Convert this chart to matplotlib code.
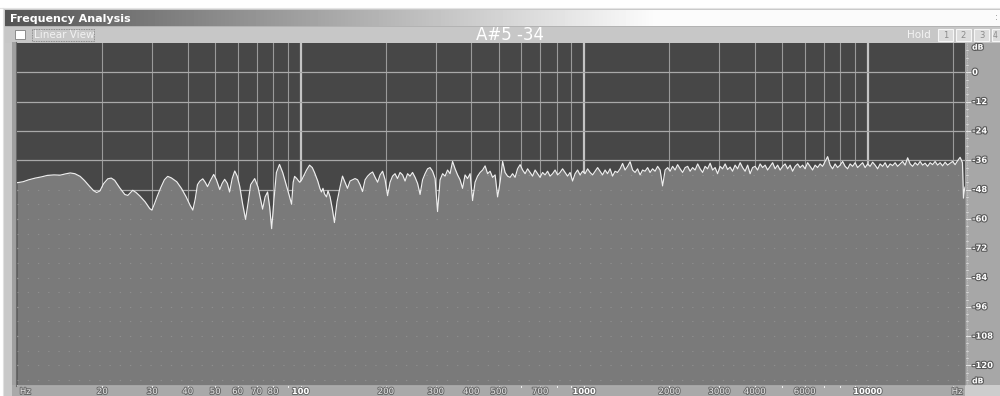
import numpy as np
import matplotlib
matplotlib.use("Agg")
import matplotlib.pyplot as plt
import matplotlib.patheffects as pe
from matplotlib.patches import Rectangle
from matplotlib.transforms import TransformedPath

# ---------------- data ----------------
low_freq_hz = [10, 10.5, 11.0, 11.6, 12.2, 12.8, 13.5, 14.2, 14.8, 15.4,
               16.0, 16.7, 17.3, 18.0, 18.6, 19.1, 19.6, 20.2, 20.9, 21.5,
               22.1, 23.0, 24.0, 24.6, 25.6, 26.3, 27.1, 28.3, 29.4, 29.9,
               30.5, 31.3, 32.2, 33.1, 34.0, 35.0, 36.6, 38.0, 39.5, 40.8,
               41.7, 42.5, 43.3, 44.1, 45.2, 46.1, 47.0, 48.0, 49.4, 50.5,
               51.9, 52.9, 54.0, 55.2, 56.2, 57.4, 58.6, 59.8, 61.0, 62.5,
               64.0, 65.4, 66.7, 68.9, 70.8, 72.3, 73.5, 75.0, 76.5, 77.8,
               79.1, 80.6, 82.2, 84.3, 86.5, 89.3, 91.0, 93.0, 94.2, 95.3,
               97.0, 99.2, 101, 103, 105, 107.6, 110, 112, 115, 117,
               118.5, 120, 121.5, 123.5, 125, 127.1, 129.5, 131.7, 134.5]
low_level_db = [-45.2, -44.8, -44.0, -43.3, -42.8, -42.2, -42.0, -42.1, -41.6, -41.2,
                -41.5, -42.6, -44.3, -46.6, -48.4, -49.2, -48.6, -45.6, -43.6, -43.3,
                -44.2, -47.2, -50.0, -50.4, -48.3, -49.2, -50.6, -53.0, -55.8, -56.4,
                -54.0, -50.5, -47.0, -44.0, -42.6, -43.2, -44.8, -47.5, -51.0, -54.5,
                -56.4, -52.0, -46.0, -44.6, -43.6, -45.0, -46.8, -44.5, -41.8, -44.0,
                -48.0, -45.5, -43.8, -45.5, -49.0, -43.5, -40.4, -42.5, -46.6, -54.0,
                -60.2, -53.0, -46.0, -43.5, -47.0, -52.0, -56.0, -51.0, -49.0, -55.0,
                -64.0, -52.0, -41.0, -37.7, -41.0, -46.6, -50.0, -54.0, -45.0, -42.6,
                -43.5, -45.0, -44.0, -42.0, -40.0, -38.0, -39.0, -41.0, -44.5, -47.5,
                -49.0, -47.5, -49.8, -51.0, -48.5, -51.0, -56.0, -61.5, -53.0]

high_freq_hz = [137.8, 140.6, 143.5, 146.4, 149.5, 152.6, 155.7, 158.9, 162.1, 165.4,
                168.9, 172.4, 175.9, 179.5, 183.2, 187.0, 190.8, 194.7, 198.7, 202.8,
                206.9, 211.1, 215.4, 219.8, 224.4, 229.0, 233.7, 238.5, 243.3, 248.3,
                253.5, 258.7, 264.0, 269.4, 274.9, 280.5, 286.3, 292.2, 298.2, 304.3,
                310.6, 317.0, 323.4, 330.0, 336.8, 343.7, 350.8, 358.0, 365.3, 372.8,
                380.4, 388.2, 396.3, 404.4, 412.6, 421.1, 429.8, 438.6, 447.6, 456.8,
                466.1, 475.7, 485.5, 495.5, 505.6, 516.0, 526.5, 537.3, 548.3, 559.5,
                571.0, 582.7, 594.8, 607.0, 619.4, 632.1, 645.0, 658.2, 671.8, 685.6,
                699.6, 713.9, 728.5, 743.4, 758.8, 774.4, 790.2, 806.4, 822.8, 839.7,
                857.0, 874.6, 892.5, 910.8, 929.6, 948.7, 968.0, 987.8, 1008, 1029,
                1050, 1072, 1094, 1116, 1139, 1162, 1186, 1210, 1235, 1260,
                1286, 1312, 1340, 1367, 1395, 1424, 1453, 1483, 1513, 1544,
                1576, 1608, 1641, 1675, 1709, 1744, 1780, 1817, 1854, 1892,
                1931, 1971, 2011, 2052, 2094, 2137, 2181, 2226, 2272, 2319,
                2366, 2414, 2464, 2515, 2566, 2619, 2672, 2727, 2783, 2840,
                2898, 2957, 3018, 3080, 3144, 3208, 3273, 3340, 3409, 3479,
                3551, 3624, 3698, 3774, 3851, 3930, 4011, 4093, 4177, 4263,
                4350, 4439, 4530, 4623, 4718, 4815, 4914, 5015, 5117, 5222,
                5329, 5438, 5550, 5664, 5780, 5899, 6019, 6142, 6269, 6398,
                6529, 6663, 6799, 6938, 7081, 7226, 7374, 7525, 7680, 7837,
                7998, 8162, 8330, 8501, 8675, 8853, 9034, 9219, 9408, 9601,
                9799, 10000, 10205, 10414, 10628, 10846, 11068, 11295, 11527, 11764,
                12004, 12250, 12502, 12758, 13020, 13287, 13560, 13838, 14122, 14412,
                14707, 15009, 15316, 15630, 15951, 16278, 16612, 16953, 17300, 17655,
                18016, 18385, 18763, 19148, 19541, 19942, 20350, 20767, 21193, 21600]
high_level_db = [-47, -42.5, -45, -47.5, -44.5, -44, -43.5, -44, -46, -48.8,
                 -44, -42.5, -41.5, -40.8, -43, -45, -42, -40.5, -44, -50.5,
                 -45, -42.5, -41.5, -43.5, -41, -42, -44.5, -41.5, -42.5, -41,
                 -43, -45.5, -50, -44, -41.5, -39.5, -39, -40.5, -43.5, -57,
                 -44, -41.5, -42.5, -40, -41.5, -36.5, -39.5, -42, -44, -47.5,
                 -42, -43.5, -41.5, -52.5, -45, -42.5, -41, -40, -38.3, -41.5,
                 -40.5, -43, -42, -51, -45, -36.5, -41, -42.5, -43, -41.5,
                 -43, -39.5, -37.8, -40, -41.5, -39.5, -41, -42.5, -40, -41.5,
                 -43, -41, -42, -40.5, -42.5, -41.5, -40, -42, -41, -39.5,
                 -41, -42.5, -41, -44.5, -41.5, -40, -42, -40.5, -41.5, -39.5,
                 -41, -42, -40.5, -39, -40.5, -42, -40, -41.5, -39.5, -42.5,
                 -40.5, -41, -39.5, -37.3, -40, -38.5, -36.6, -40, -41, -39.5,
                 -42, -40, -40.5, -39, -41, -39.5, -40.5, -38.5, -40, -46.5,
                 -40, -39, -40.5, -38.5, -40, -37.8, -39.5, -41, -39, -38.5,
                 -40.5, -39, -40, -37.5, -39.5, -41, -38.5, -39.5, -37.2, -40,
                 -39, -41.5, -38.5, -39.5, -37.5, -39.8, -38.8, -40.5, -38, -39.5,
                 -37, -39, -40.5, -38, -41.5, -39, -38.5, -40, -37.5, -39,
                 -38, -40, -38.5, -37, -39.5, -38, -40, -38.5, -37.5, -39.5,
                 -38, -40.5, -38.5, -37.5, -39, -38, -39.5, -37, -38.5, -40,
                 -38, -39, -37.5, -38.5, -36.5, -34.5, -38, -39.5, -37.5, -39,
                 -38, -36.5, -38.5, -39.5, -37.5, -38.5, -37, -39, -38, -37,
                 -39, -37.5, -38.5, -36.8, -38, -39.5, -37.5, -38.5, -37, -39,
                 -37.5, -38.2, -37, -38.5, -37.5, -36.5, -38, -35, -37.5, -38.5,
                 -37, -38, -36.5, -38, -37.2, -38.5, -37, -37.8, -36.5, -38,
                 -37, -38.3, -36.8, -38, -37.2, -36.5, -37.8, -36.2, -34.8, -37]
tail_freq_hz = [21780, 21950, 22050]
tail_level_db = [-51.5, -48, -47]

grid_freqs = [20, 30, 40, 50, 60, 70, 80, 90,
              200, 300, 400, 500, 600, 700, 800, 900,
              2000, 3000, 4000, 5000, 6000, 7000, 8000, 9000, 20000]
decade_freqs = [100, 1000, 10000]
x_label_freqs = [20, 30, 40, 50, 60, 70, 80, 100, 200, 300, 400, 500, 700,
                 1000, 2000, 3000, 4000, 6000, 10000]
x_label_texts = ["20", "30", "40", "50", "60", "70", "80", "100", "200", "300",
                 "400", "500", "700", "1000", "2000", "3000", "4000", "6000", "10000"]
x_minor_freqs = [90, 600, 800, 900, 5000, 7000, 8000, 9000, 20000]
db_ticks = [0, -12, -24, -36, -48, -60, -72, -84, -96, -108, -120]
db_labels = ["0", "-12", "-24", "-36", "-48", "-60", "-72", "-84", "-96", "-108", "-120"]
window_title = "Frequency Analysis"
note_readout = "A#5 -34"
checkbox_label = "Linear View"
hold_label = "Hold"
hold_buttons = ["1", "2", "3", "4"]

freq = np.array(low_freq_hz + high_freq_hz + tail_freq_hz)
level = np.array(low_level_db + high_level_db + tail_level_db)

# ---------------- figure ----------------
W, H = 1000, 396
fig = plt.figure(figsize=(10, 3.96), dpi=100, facecolor="white")


def frect(x0, y0, x1, y1):
    return [x0 / W, 1 - y1 / H, (x1 - x0) / W, (y1 - y0) / H]


bg = fig.add_axes([0, 0, 1, 1])
bg.set_xlim(0, W)
bg.set_ylim(H, 0)
bg.axis("off")

# window body
bg.add_patch(Rectangle((3, 9), 997, 387, fc="#c9c9c9", ec="none"))
bg.plot([0, 1000], [7.5, 7.5], color="#e4e4e4", lw=0.8)
bg.plot([3, 3], [8, 396], color="#e0e0e0", lw=0.8)
# title bar gradient
grad = np.clip(np.linspace(0.33, 1.05, 200), 0, 0.985)
bg.imshow(grad[None, :], extent=[5, 720, 26, 10], cmap="gray", vmin=0, vmax=1,
          aspect="auto", interpolation="bilinear", zorder=1)
bg.add_patch(Rectangle((720, 10), 280, 16, fc="#fbfbfb", ec="none", zorder=1))
bg.text(10, 18.5, window_title, fontsize=8, fontweight="bold", color="white",
        family="DejaVu Sans", va="center", ha="left", zorder=3)
bg.text(996, 18, ":", fontsize=6, color="#777777", va="center", ha="center", zorder=3)
# toolbar
bg.add_patch(Rectangle((5, 26), 995, 17, fc="#c7c7c7", ec="none", zorder=1))
bg.plot([5, 1000], [26.3, 26.3], color="#b0b0b0", lw=0.6, zorder=2)
bg.add_patch(Rectangle((15, 30), 10, 9, fc="white", ec="#8c8c8c", lw=0.7, zorder=3))
bg.add_patch(Rectangle((32, 29), 62, 12, fill=False, ec="#7a7a7a", lw=0.6, ls=(0, (1, 1)), zorder=3))
bg.text(34, 35.5, checkbox_label, fontsize=7.5, color="#f2f2f2", family="DejaVu Sans",
        va="center", ha="left", zorder=3)
bg.text(510, 35, note_readout, fontsize=12, color="white", family="DejaVu Sans",
        va="center", ha="center", zorder=3)
bg.text(907, 35.5, hold_label, fontsize=7.5, color="#f4f4f4", family="DejaVu Sans",
        va="center", ha="left", zorder=3)
for i, b in enumerate(hold_buttons):
    x0 = 938 + 18 * i
    bg.add_patch(Rectangle((x0, 29), 15, 12, fc="#dcdcdc", ec="#f6f6f6", lw=0.8, zorder=3))
    tx = min(x0 + 7.5, 995.5)
    bg.text(tx, 35.5, b, fontsize=5.5 if i == 3 else 6, color="#8a8a8a",
            va="center", ha="center", zorder=4)

# frame around plot
bg.add_patch(Rectangle((12, 42), 5, 344, fc="#a0a0a0", ec="none", zorder=1))
bg.plot([16, 16], [42, 386], color="#6a6a6a", lw=0.8, zorder=2)
bg.add_patch(Rectangle((965, 43), 35, 342, fc="#a7a7a7", ec="none", zorder=1))
bg.add_patch(Rectangle((12, 385), 953, 11, fc="#a9a9a9", ec="none", zorder=1))
bg.plot([17, 965], [385.3, 385.3], color="#d2d2d2", lw=0.8, zorder=2)
bg.add_patch(Rectangle((965, 385), 35, 11, fc="#cdcdcd", ec="none", zorder=1))
bg.plot([966.5, 966.5], [43, 385], color="#c8c8c8", lw=0.6, ls=(0, (1, 1)), zorder=2)

# ---------------- main plot ----------------
ax = fig.add_axes(frect(17, 43, 965, 385))
ax.set_xscale("log")
ax.set_xlim(10, 22050)
ax.set_ylim(-128, 12)
ax.set_facecolor("#474747")
for s in ax.spines.values():
    s.set_visible(False)
ax.set_xticks([])
ax.set_yticks([])
ax.minorticks_off()

for f in grid_freqs:
    ax.axvline(f, color="#9a9a9a", lw=0.8, zorder=1)
for f in decade_freqs:
    ax.axvline(f, color="#c4c4c4", lw=1.6, zorder=1)
for d in db_ticks:
    ax.axhline(d, color="#a9a9a9", lw=0.9, zorder=1)

poly = ax.fill_between(freq, level, -128, color="#7a7a7a", lw=0, zorder=2)
clip = TransformedPath(poly.get_paths()[0], ax.transData)
for d in range(-126, 12, 6):
    ln = ax.axhline(d, color="#8e8e8e", lw=0.8, ls=(0, (1.2, 8)), zorder=3)
    ln.set_clip_path(clip)
ax.plot(freq, level, color="#eeeeee", lw=0.85, zorder=4)

# right dB scale
halo = [pe.withStroke(linewidth=1.6, foreground="#5a5a5a")]
ytr = ax.get_yaxis_transform()
for d, t in zip(db_ticks, db_labels):
    ax.text(1.0075, d, t, transform=ytr, fontsize=6, fontweight="bold", color="white",
            va="center", ha="left", path_effects=halo, clip_on=False)
    ax.plot([1.001, 1.006], [d, d], transform=ytr, color="#eaeaea", lw=0.7, clip_on=False)
for d in range(-126, 12, 3):
    ax.plot([1.001, 1.0035], [d, d], transform=ytr, color="#e0e0e0", lw=0.5, clip_on=False)
ax.text(1.0075, 10.3, "dB", transform=ytr, fontsize=5.5, fontweight="bold", color="white",
        va="center", ha="left", path_effects=halo, clip_on=False)
ax.text(1.0075, -126.3, "dB", transform=ytr, fontsize=5.5, fontweight="bold", color="white",
        va="center", ha="left", path_effects=halo, clip_on=False)

# bottom frequency scale
xtr = ax.get_xaxis_transform()
halo2 = [pe.withStroke(linewidth=1.4, foreground="#6a6a6a")]
for f, t in zip(x_label_freqs, x_label_texts):
    bold = f in decade_freqs
    ax.text(f, -0.019, t, transform=xtr, fontsize=6 if bold else 6.2,
            fontweight="bold" if bold else "normal",
            color="white" if bold else "#e6e6e6", va="center", ha="center",
            path_effects=halo2, clip_on=False)
    ax.plot([f, f], [-0.002, -0.008], transform=xtr, color="#f0f0f0", lw=0.7, clip_on=False)
for f in x_minor_freqs:
    ax.plot([f, f], [-0.002, -0.007], transform=xtr, color="#f0f0f0", lw=0.7, clip_on=False)
ax.text(0.003, -0.019, "Hz", transform=ax.transAxes, fontsize=6.2, color="#e6e6e6",
        va="center", ha="left", path_effects=halo2, clip_on=False)
ax.text(0.9975, -0.019, "Hz", transform=ax.transAxes, fontsize=6.2, color="#e6e6e6",
        va="center", ha="right", path_effects=halo2, clip_on=False)

fig.savefig("out.png", dpi=100, facecolor="white")
